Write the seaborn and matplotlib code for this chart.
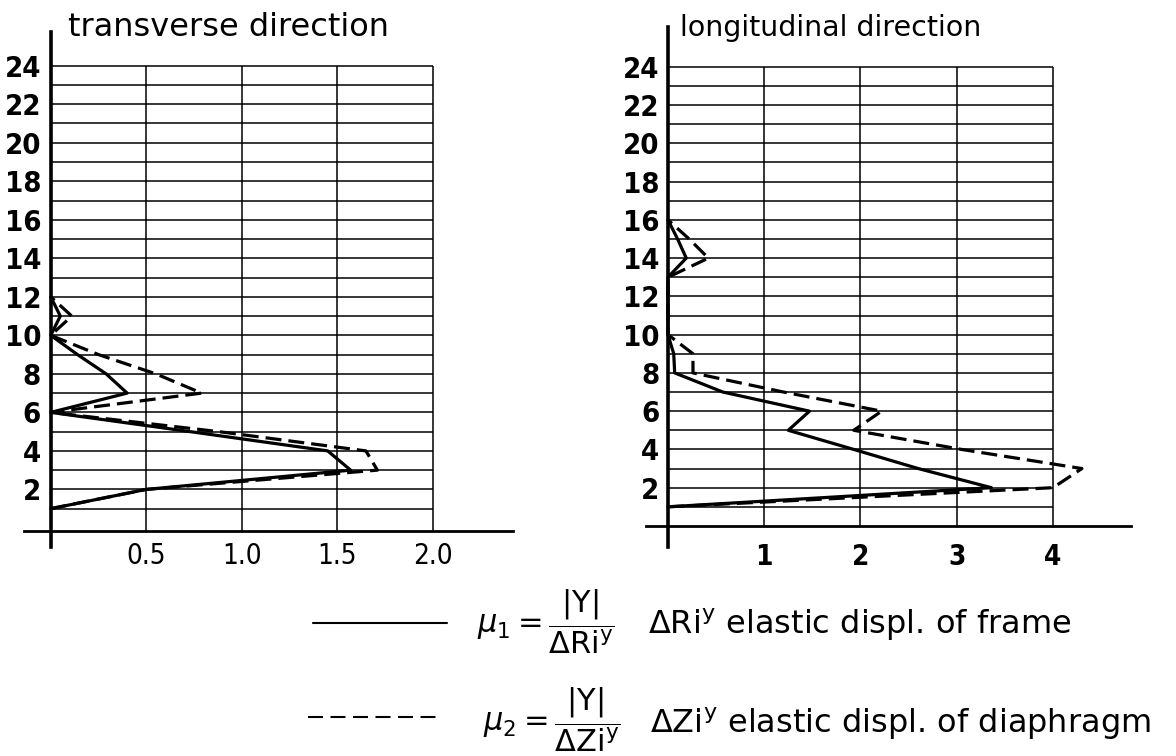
import matplotlib
matplotlib.use("Agg")
import matplotlib.pyplot as plt
from matplotlib.lines import Line2D
from matplotlib import font_manager as fm
import pandas as pd
import seaborn as sns

# ---------------- data ----------------
floors_T = [1, 2, 3, 4, 5, 6, 7, 8, 9, 10, 11, 12]
mu1_T = [0.0, 0.50, 1.57, 1.45, 0.73, 0.0, 0.40, 0.29, 0.14, 0.0, 0.05, 0.0]
mu2_T = [0.0, 0.50, 1.71, 1.65, 0.88, 0.0, 0.79, 0.55, 0.25, 0.0, 0.11, 0.0]

floors_L = [1, 2, 3, 4, 5, 6, 7, 8, 9, 10, 11, 12, 13, 14, 15, 16]
mu1_L = [0.0, 3.36, 2.60, 1.93, 1.25, 1.47, 0.57, 0.07, 0.06, 0.0, 0.0, 0.0, 0.0, 0.19, 0.10, 0.0]
mu2_L = [0.0, 4.00, 4.30, 3.05, 1.93, 2.22, 1.20, 0.26, 0.26, 0.0, 0.0, 0.0, 0.0, 0.42, 0.22, 0.0]

grid_levels = list(range(1, 25))
ytick_vals = list(range(2, 25, 2))
ytick_labels = [str(v) for v in ytick_vals]
xticks_T = [0.5, 1.0, 1.5, 2.0]
xticklabels_T = ["0.5", "1.0", "1.5", "2.0"]
xticks_L = [1, 2, 3, 4]
xticklabels_L = ["1", "2", "3", "4"]
series_names = ["frame", "diaphragm"]
title_T = "transverse direction"
title_L = "longitudinal direction"

# ---------------- style ----------------
sns.set_theme(style="white")
plt.rcParams["font.family"] = ["DejaVu Sans"]
plt.rcParams["mathtext.fontset"] = "dejavusans"

names = {f.name for f in fm.fontManager.ttflist}
if "Liberation Sans Narrow" in names:
    tick_fp = dict(family="Liberation Sans Narrow", stretch="normal")
    ysize, xsize = 23, 22
else:
    cond = any(f.name == "DejaVu Sans" and str(f.stretch) == "condensed"
               for f in fm.fontManager.ttflist)
    tick_fp = dict(family="DejaVu Sans", stretch="condensed" if cond else "normal")
    ysize, xsize = (21, 20) if cond else (18, 18)

W, H = 1176, 756
fig = plt.figure(figsize=(W / 100, H / 100), dpi=100)
fig.patch.set_facecolor("white")


def px_axes(x0, x1, ytop, ybot):
    return fig.add_axes([x0 / W, 1 - ybot / H, (x1 - x0) / W, (ybot - ytop) / H])


axT = px_axes(24, 513, 32, 547)
axL = px_axes(646, 1131, 27, 547)

DASH = (5, 2.2)


def draw(ax, floors, m1, m2, grid_x, xticks, xticklabels, xlim, ylim, xaxis_level,
         xweight, xpad, ypad):
    n = len(floors)
    df = pd.DataFrame({
        "floor": list(floors) * 2,
        "value": list(m1) + list(m2),
        "series": [series_names[0]] * n + [series_names[1]] * n,
    })
    ax.hlines(grid_levels, 0, grid_x, color="black", lw=1.1, zorder=1)
    ax.vlines(xticks, xaxis_level, 24, color="black", lw=1.1, zorder=1)
    sns.lineplot(data=df, x="value", y="floor", style="series",
                 dashes={series_names[0]: "", series_names[1]: DASH},
                 sort=False, estimator=None, color="black", lw=2.3,
                 legend=False, ax=ax, zorder=3)
    ax.set_xlabel("")
    ax.set_ylabel("")
    ax.set_xlim(*xlim)
    ax.set_ylim(*ylim)
    ax.set_facecolor("white")
    for s in ("top", "right"):
        ax.spines[s].set_visible(False)
    ax.spines["left"].set_position(("data", 0))
    ax.spines["bottom"].set_position(("data", xaxis_level))
    ax.spines["left"].set_linewidth(2.6)
    ax.spines["bottom"].set_linewidth(2.0)
    ax.spines["left"].set_color("black")
    ax.spines["bottom"].set_color("black")
    ax.set_yticks(ytick_vals)
    ax.set_yticklabels(ytick_labels, fontsize=ysize, fontweight="bold",
                       color="black", **tick_fp)
    ax.set_xticks(xticks)
    ax.set_xticklabels(xticklabels, fontsize=xsize, fontweight=xweight,
                       color="black", **tick_fp)
    ax.tick_params(axis="y", length=0, pad=ypad)
    ax.tick_params(axis="x", length=0, pad=xpad)
    ax.grid(False)


draw(axT, floors_T, mu1_T, mu2_T, 2.0, xticks_T, xticklabels_T,
     (-0.14, 2.42), (-0.99, 25.75), -0.15, "normal", 8, 7)
draw(axL, floors_L, mu1_L, mu2_L, 4.0, xticks_L, xticklabels_L,
     (-0.228, 4.81), (-1.10, 26.08), 0.0, "bold", 12, 6)

# titles
fig.text(68 / W, 1 - 36 / H, title_T, fontsize=23, va="baseline", ha="left", color="black")
fig.text(680 / W, 1 - 36 / H, title_L, fontsize=20.5, va="baseline", ha="left", color="black")

# legend
fig.add_artist(Line2D([313 / W, 447 / W], [1 - 623 / H, 1 - 623 / H],
                      color="black", lw=1.5, transform=fig.transFigure))
fig.add_artist(Line2D([308 / W, 443 / W], [1 - 717 / H, 1 - 717 / H],
                      color="black", lw=1.5, dashes=(7.2, 3.6), transform=fig.transFigure))

fig.text(477 / W, 1 - 622 / H, r"$\mu_{1} = \dfrac{|\mathrm{Y}|}{\Delta\mathrm{Ri}^{\mathrm{y}}}$",
         fontsize=22, va="center", ha="left", color="black")
fig.text(483 / W, 1 - 720 / H, r"$\mu_{2} = \dfrac{|\mathrm{Y}|}{\Delta\mathrm{Zi}^{\mathrm{y}}}$",
         fontsize=22, va="center", ha="left", color="black")
fig.text(648 / W, 1 - 625 / H, r"ΔRi$^{\mathrm{y}}$ elastic displ. of frame",
         fontsize=23, va="center", ha="left", color="black")
fig.text(650 / W, 1 - 724 / H, r"ΔZi$^{\mathrm{y}}$ elastic displ. of diaphragm",
         fontsize=23, va="center", ha="left", color="black")

fig.savefig("out.png", dpi=100, facecolor="white")
